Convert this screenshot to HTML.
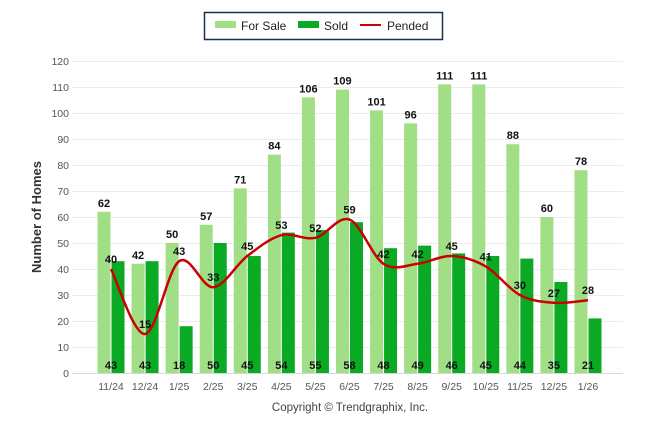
<!DOCTYPE html>
<html><head><meta charset="utf-8"><style>
body{margin:0;background:#fff;font-family:"Liberation Sans",sans-serif}
svg text{font-family:"Liberation Sans",sans-serif}
</style></head><body>
<svg id="c" width="646" height="434">
<g>
<rect x="204.5" y="12.5" width="238" height="27" fill="#fff" stroke="#1a3050" stroke-width="1.5"/>
<g><rect x="215" y="21" width="21" height="7" fill="#a1df86"/><text x="241" y="30" font-size="12" fill="#222">For Sale</text></g>
<g><rect x="298" y="21" width="21" height="7" fill="#0aaa25"/><text x="324" y="30" font-size="12" fill="#222">Sold</text></g>
<g><rect x="360" y="24" width="21" height="2" fill="#cc0000"/><text x="387" y="30" font-size="12" fill="#222">Pended</text></g>
</g>
<text x="0" y="0" transform="translate(41,217) rotate(-90)" text-anchor="middle" font-size="13" font-weight="bold" fill="#333">Number of Homes</text>
<text x="350" y="411" text-anchor="middle" font-size="11.5" fill="#444">Copyright © Trendgraphix, Inc.</text>
<g id="grid"></g><g id="bars"></g><g id="line"></g><g id="labels"></g>
</svg>
<script>
const categories=["11/24","12/24","1/25","2/25","3/25","4/25","5/25","6/25","7/25","8/25","9/25","10/25","11/25","12/25","1/26"];
const forSale=[62,42,50,57,71,84,106,109,101,96,111,111,88,60,78];
const sold=[43,43,18,50,45,54,55,58,48,49,46,45,44,35,21];
const pended=[40,15,43,33,45,53,52,59,42,42,45,41,30,27,28];
const yTicks=[0,10,20,30,40,50,60,70,80,90,100,110,120];
const NS="http://www.w3.org/2000/svg";
const y=v=>373-v*(312/120);
const cx=i=>111+i*34.07;
function mk(tag,attrs,parent,txt){const e=document.createElementNS(NS,tag);for(const k in attrs)e.setAttribute(k,attrs[k]);if(txt!==undefined)e.textContent=txt;parent.appendChild(e);return e;}
const G=document.getElementById('grid'),B=document.getElementById('bars'),L=document.getElementById('line'),T=document.getElementById('labels');
yTicks.forEach(t=>{
 const g=mk('line',{x1:72,x2:623,y1:y(t)+0.5,y2:y(t)+0.5,stroke:t===0?'#d8d8d8':'#ececec'},G);
 
 
 const tx=mk('text',{x:69,y:y(t)+4,'text-anchor':'end','font-size':10.5,fill:'#555'},G,t);
 
 
});
categories.forEach((c,i)=>{
 const x=cx(i);
 const tx=mk('text',{x:x,y:390,'text-anchor':'middle','font-size':10.5,fill:'#555'},G,c);
 
 
 const b1=mk('rect',{x:x-13.5,y:y(forSale[i]),width:13,height:373-y(forSale[i]),fill:'#a1df86'},B);
 
 
 const b2=mk('rect',{x:x+0.5,y:y(sold[i]),width:13,height:373-y(sold[i]),fill:'#0aaa25'},B);
 
 
 const l1=mk('text',{x:x-7,y:y(forSale[i])-5,'text-anchor':'middle','font-size':11,'font-weight':'bold',fill:'#111'},T,forSale[i]);
 
 
 const l2=mk('text',{x:x,y:369,'text-anchor':'middle','font-size':11,'font-weight':'bold',fill:'#111'},T,sold[i]);
 
 
 const l3=mk('text',{x:x,y:y(pended[i])-6,'text-anchor':'middle','font-size':11,'font-weight':'bold',fill:'#111'},T,pended[i]);
 
 
});
const P=pended.map((v,i)=>[cx(i),y(v)]);
let d='M'+P[0][0]+','+P[0][1];
for(let i=0;i<P.length-1;i++){
 const p0=P[Math.max(0,i-1)],p1=P[i],p2=P[i+1],p3=P[Math.min(P.length-1,i+2)];
 const t=1/6;
 d+=' C'+(p1[0]+(p2[0]-p0[0])*t)+','+(p1[1]+(p2[1]-p0[1])*t)+' '+(p2[0]-(p3[0]-p1[0])*t)+','+(p2[1]-(p3[1]-p1[1])*t)+' '+p2[0]+','+p2[1];
}
const pl=mk('path',{d:d,fill:'none',stroke:'#cc0000','stroke-width':2.5},L);


</script>
</body></html>
